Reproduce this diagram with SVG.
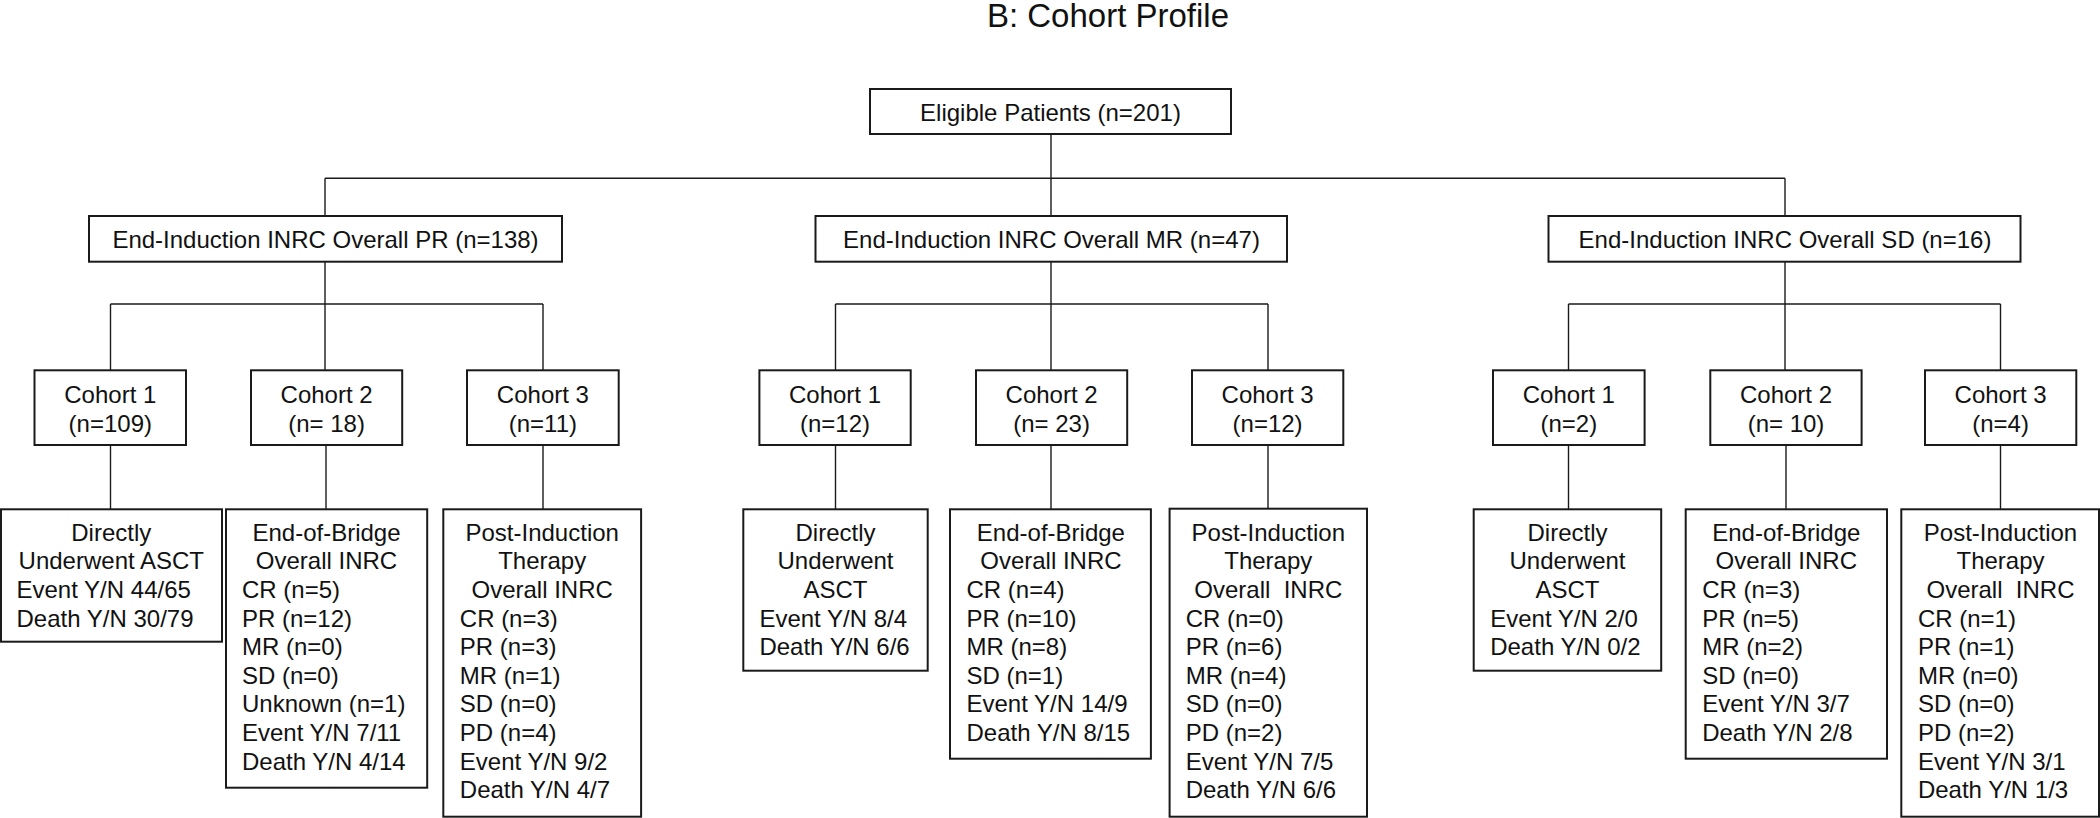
<svg xmlns="http://www.w3.org/2000/svg" width="2100" height="818" viewBox="0 0 2100 818">
<style>
.bg{fill:#ffffff}
.box{fill:#ffffff;stroke:#1a1a1a;stroke-width:2}
.con{fill:none;stroke:#1a1a1a;stroke-width:1.4}
text{font-family:"Liberation Sans",Arial,sans-serif;font-size:24px;fill:#111111}
.c{text-anchor:middle}
.l{text-anchor:start}
.title{font-size:33px;text-anchor:middle}
</style>
<rect class="bg" x="0" y="0" width="2100" height="818"/>
<text class="title" x="1108" y="27">B: Cohort Profile</text>

<g id="connectors">
<path class="con" d="M1051 134 V216"/>
<path class="con" d="M325 178.3 H1785"/>
<path class="con" d="M325 178.3 V216"/>
<path class="con" d="M1785 178.3 V216"/>
<path class="con" d="M325 261.7 V370.3"/>
<path class="con" d="M1051 261.7 V370.3"/>
<path class="con" d="M1785 261.7 V370.3"/>
<path class="con" d="M110.5 304 H543"/>
<path class="con" d="M110.5 304 V370.3"/>
<path class="con" d="M543 304 V370.3"/>
<path class="con" d="M835.5 304 H1268"/>
<path class="con" d="M835.5 304 V370.3"/>
<path class="con" d="M1268 304 V370.3"/>
<path class="con" d="M1568.5 304 H2000.5"/>
<path class="con" d="M1568.5 304 V370.3"/>
<path class="con" d="M2000.5 304 V370.3"/>
<path class="con" d="M110.5 445 V509.3"/>
<path class="con" d="M326 445 V509.3"/>
<path class="con" d="M543 445 V509.3"/>
<path class="con" d="M835.5 445 V509.3"/>
<path class="con" d="M1051 445 V509.3"/>
<path class="con" d="M1268 445 V509.3"/>
<path class="con" d="M1568.5 445 V509.3"/>
<path class="con" d="M1786 445 V509.3"/>
<path class="con" d="M2000.5 445 V509.3"/>
</g>

<g id="eligible">
<rect class="box" x="870" y="89" width="361" height="45"/>
<text class="c" x="1050.5" y="120.5">Eligible Patients (n=201)</text>
</g>

<g id="pr">
<rect class="box" x="89" y="216" width="473" height="45.7"/>
<text class="c" x="325.5" y="248">End-Induction INRC Overall PR (n=138)</text>
</g>
<g id="mr">
<rect class="box" x="815.5" y="216" width="471.5" height="45.7"/>
<text class="c" x="1051.5" y="248">End-Induction INRC Overall MR (n=47)</text>
</g>
<g id="sd">
<rect class="box" x="1548.5" y="216" width="472" height="45.7"/>
<text class="c" x="1785" y="248">End-Induction INRC Overall SD (n=16)</text>
</g>

<g id="pr-c1">
<rect class="box" x="34.5" y="370.3" width="151.5" height="74.7"/>
<text class="c" x="110.3" y="403.3">Cohort 1</text>
<text class="c" x="110.3" y="431.7">(n=109)</text>
</g>
<g id="pr-c2">
<rect class="box" x="251" y="370.3" width="151.2" height="74.7"/>
<text class="c" x="326.6" y="403.3">Cohort 2</text>
<text class="c" x="326.6" y="431.7">(n= 18)</text>
</g>
<g id="pr-c3">
<rect class="box" x="467" y="370.3" width="151.7" height="74.7"/>
<text class="c" x="542.9" y="403.3">Cohort 3</text>
<text class="c" x="542.9" y="431.7">(n=11)</text>
</g>
<g id="mr-c1">
<rect class="box" x="759.4" y="370.3" width="151.3" height="74.7"/>
<text class="c" x="835" y="403.3">Cohort 1</text>
<text class="c" x="835" y="431.7">(n=12)</text>
</g>
<g id="mr-c2">
<rect class="box" x="976" y="370.3" width="151.2" height="74.7"/>
<text class="c" x="1051.6" y="403.3">Cohort 2</text>
<text class="c" x="1051.6" y="431.7">(n= 23)</text>
</g>
<g id="mr-c3">
<rect class="box" x="1192" y="370.3" width="151.3" height="74.7"/>
<text class="c" x="1267.6" y="403.3">Cohort 3</text>
<text class="c" x="1267.6" y="431.7">(n=12)</text>
</g>
<g id="sd-c1">
<rect class="box" x="1493" y="370.3" width="151.6" height="74.7"/>
<text class="c" x="1568.8" y="403.3">Cohort 1</text>
<text class="c" x="1568.8" y="431.7">(n=2)</text>
</g>
<g id="sd-c2">
<rect class="box" x="1710.3" y="370.3" width="151.3" height="74.7"/>
<text class="c" x="1786" y="403.3">Cohort 2</text>
<text class="c" x="1786" y="431.7">(n= 10)</text>
</g>
<g id="sd-c3">
<rect class="box" x="1925" y="370.3" width="151.3" height="74.7"/>
<text class="c" x="2000.6" y="403.3">Cohort 3</text>
<text class="c" x="2000.6" y="431.7">(n=4)</text>
</g>

<g id="pr-d1">
<rect class="box" x="1" y="509.3" width="221" height="132.4"/>
<text class="c" x="111.3" y="540.7">Directly</text>
<text class="c" x="111.3" y="569.3">Underwent ASCT</text>
<text class="l" x="16.5" y="597.9">Event Y/N 44/65</text>
<text class="l" x="16.5" y="626.5">Death Y/N 30/79</text>
</g>
<g id="pr-d2">
<rect class="box" x="226" y="509.3" width="201.2" height="278.4"/>
<text class="c" x="326.5" y="540.7">End-of-Bridge</text>
<text class="c" x="326.5" y="569.3">Overall INRC</text>
<text class="l" x="242" y="597.9">CR (n=5)</text>
<text class="l" x="242" y="626.5">PR (n=12)</text>
<text class="l" x="242" y="655.1">MR (n=0)</text>
<text class="l" x="242" y="683.7">SD (n=0)</text>
<text class="l" x="242" y="712.3">Unknown (n=1)</text>
<text class="l" x="242" y="740.9">Event Y/N 7/11</text>
<text class="l" x="242" y="769.5">Death Y/N 4/14</text>
</g>
<g id="pr-d3">
<rect class="box" x="443.3" y="509.3" width="197.8" height="307.4"/>
<text class="c" x="542.2" y="540.7">Post-Induction</text>
<text class="c" x="542.2" y="569.3">Therapy</text>
<text class="c" x="542.2" y="597.9">Overall INRC</text>
<text class="l" x="459.8" y="626.5">CR (n=3)</text>
<text class="l" x="459.8" y="655.1">PR (n=3)</text>
<text class="l" x="459.8" y="683.7">MR (n=1)</text>
<text class="l" x="459.8" y="712.3">SD (n=0)</text>
<text class="l" x="459.8" y="740.9">PD (n=4)</text>
<text class="l" x="459.8" y="769.5">Event Y/N 9/2</text>
<text class="l" x="459.8" y="798.1">Death Y/N 4/7</text>
</g>

<g id="mr-d1">
<rect class="box" x="743.3" y="509.3" width="184.4" height="161.4"/>
<text class="c" x="835.5" y="540.7">Directly</text>
<text class="c" x="835.5" y="569.3">Underwent</text>
<text class="c" x="835.5" y="597.9">ASCT</text>
<text class="l" x="759.4" y="626.5">Event Y/N 8/4</text>
<text class="l" x="759.4" y="655.1">Death Y/N 6/6</text>
</g>
<g id="mr-d2">
<rect class="box" x="950" y="509.3" width="200.9" height="249.4"/>
<text class="c" x="1050.9" y="540.7">End-of-Bridge</text>
<text class="c" x="1050.9" y="569.3">Overall INRC</text>
<text class="l" x="966.5" y="597.9">CR (n=4)</text>
<text class="l" x="966.5" y="626.5">PR (n=10)</text>
<text class="l" x="966.5" y="655.1">MR (n=8)</text>
<text class="l" x="966.5" y="683.7">SD (n=1)</text>
<text class="l" x="966.5" y="712.3">Event Y/N 14/9</text>
<text class="l" x="966.5" y="740.9">Death Y/N 8/15</text>
</g>
<g id="mr-d3">
<rect class="box" x="1169.6" y="508.7" width="197.4" height="308"/>
<text class="c" x="1268.3" y="540.7">Post-Induction</text>
<text class="c" x="1268.3" y="569.3">Therapy</text>
<text class="c" x="1268.3" y="597.9" xml:space="preserve">Overall  INRC</text>
<text class="l" x="1185.7" y="626.5">CR (n=0)</text>
<text class="l" x="1185.7" y="655.1">PR (n=6)</text>
<text class="l" x="1185.7" y="683.7">MR (n=4)</text>
<text class="l" x="1185.7" y="712.3">SD (n=0)</text>
<text class="l" x="1185.7" y="740.9">PD (n=2)</text>
<text class="l" x="1185.7" y="769.5">Event Y/N 7/5</text>
<text class="l" x="1185.7" y="798.1">Death Y/N 6/6</text>
</g>

<g id="sd-d1">
<rect class="box" x="1473.7" y="509.3" width="187.5" height="161.4"/>
<text class="c" x="1567.5" y="540.7">Directly</text>
<text class="c" x="1567.5" y="569.3">Underwent</text>
<text class="c" x="1567.5" y="597.9">ASCT</text>
<text class="l" x="1490.2" y="626.5">Event Y/N 2/0</text>
<text class="l" x="1490.2" y="655.1">Death Y/N 0/2</text>
</g>
<g id="sd-d2">
<rect class="box" x="1685.7" y="509.3" width="201.3" height="249.4"/>
<text class="c" x="1786.3" y="540.7">End-of-Bridge</text>
<text class="c" x="1786.3" y="569.3">Overall INRC</text>
<text class="l" x="1702.2" y="597.9">CR (n=3)</text>
<text class="l" x="1702.2" y="626.5">PR (n=5)</text>
<text class="l" x="1702.2" y="655.1">MR (n=2)</text>
<text class="l" x="1702.2" y="683.7">SD (n=0)</text>
<text class="l" x="1702.2" y="712.3">Event Y/N 3/7</text>
<text class="l" x="1702.2" y="740.9">Death Y/N 2/8</text>
</g>
<g id="sd-d3">
<rect class="box" x="1901.3" y="509.3" width="197.7" height="307.4"/>
<text class="c" x="2000.5" y="540.7">Post-Induction</text>
<text class="c" x="2000.5" y="569.3">Therapy</text>
<text class="c" x="2000.5" y="597.9" xml:space="preserve">Overall  INRC</text>
<text class="l" x="1917.9" y="626.5">CR (n=1)</text>
<text class="l" x="1917.9" y="655.1">PR (n=1)</text>
<text class="l" x="1917.9" y="683.7">MR (n=0)</text>
<text class="l" x="1917.9" y="712.3">SD (n=0)</text>
<text class="l" x="1917.9" y="740.9">PD (n=2)</text>
<text class="l" x="1917.9" y="769.5">Event Y/N 3/1</text>
<text class="l" x="1917.9" y="798.1">Death Y/N 1/3</text>
</g>
</svg>
